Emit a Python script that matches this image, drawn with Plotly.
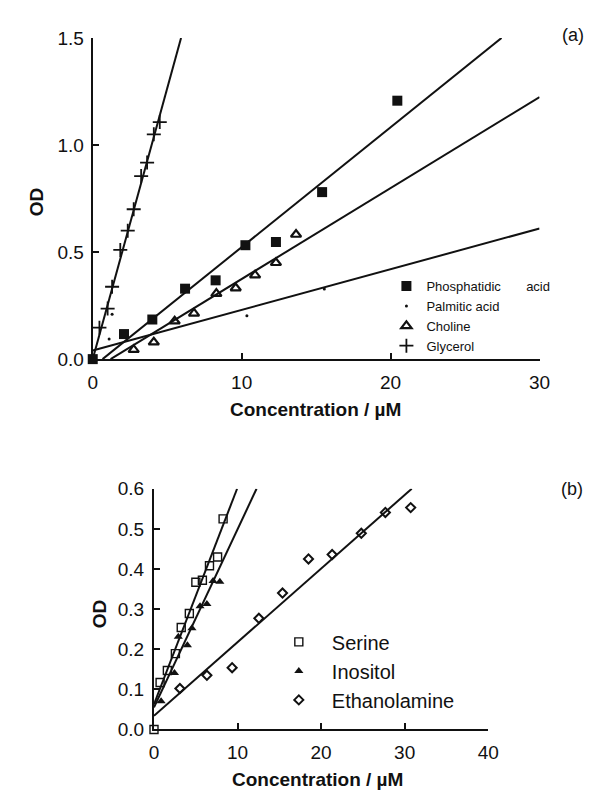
import plotly.graph_objects as go

# ---------------- Panel (a) data ----------------
pa_x = [0, 2.1, 4.0, 6.2, 8.25, 10.25, 12.3, 15.4, 20.45]
pa_y = [0, 0.117, 0.185, 0.329, 0.368, 0.532, 0.547, 0.78, 1.207]
palm_x = [1.1, 1.3, 10.35, 15.55]
palm_y = [0.094, 0.21, 0.203, 0.327]
chol_x = [2.75, 4.1, 5.5, 6.8, 8.3, 9.6, 10.9, 12.3, 13.65]
chol_y = [0.044, 0.079, 0.177, 0.214, 0.306, 0.332, 0.392, 0.45, 0.582]
gly_x = [0.45, 1.0, 1.3, 1.85, 2.35, 2.75, 3.25, 3.65, 4.1, 4.5]
gly_y = [0.147, 0.236, 0.338, 0.51, 0.60, 0.70, 0.855, 0.918, 1.05, 1.107]

# fitted lines (slope, intercept, x start, x end) for panel (a)
a_fit_slope = [0.056, 0.019, 0.0425, 0.253]
a_fit_icpt = [-0.037, 0.040, -0.051, 0.0]
a_fit_x0 = [0.66, 0.0, 1.2, 0.0]
a_fit_x1 = [30.0, 30.0, 30.0, 30.0]

# ---------------- Panel (b) data ----------------
ser_x = [0, 0.73, 1.6, 2.56, 3.26, 4.23, 5.01, 5.79, 6.64, 7.61, 8.27]
ser_y = [0, 0.117, 0.147, 0.189, 0.254, 0.289, 0.367, 0.372, 0.408, 0.430, 0.525]
ino_x = [0.85, 2.45, 2.91, 4.0, 4.54, 5.51, 6.33, 7.07, 7.88]
ino_y = [0.070, 0.141, 0.231, 0.21, 0.252, 0.307, 0.313, 0.37, 0.368]
eth_x = [3.1, 6.33, 9.35, 12.55, 15.38, 18.49, 21.32, 24.81, 27.69, 30.72]
eth_y = [0.102, 0.135, 0.154, 0.277, 0.340, 0.425, 0.436, 0.489, 0.541, 0.553]

b_fit_slope = [0.054, 0.0444, 0.01835]
b_fit_icpt = [0.063, 0.055, 0.034]
b_fit_x0 = [0.0, 0.0, 0.0]
b_fit_x1 = [40.0, 40.0, 31.0]

a_xticks = [0, 10, 20, 30]
a_yticks = [0.0, 0.5, 1.0, 1.5]
b_xticks = [0, 10, 20, 30, 40]
b_yticks = [0.0, 0.1, 0.2, 0.3, 0.4, 0.5, 0.6]

FONT = "Liberation Sans, Arial, Helvetica, sans-serif"
BLACK = "#111111"

fig = go.Figure()


def add_lines(slopes, icpts, x0s, x1s, ymax, xa, ya):
    for m, b, xs, xe in zip(slopes, icpts, x0s, x1s):
        xe = min(xe, (ymax - b) / m)
        fig.add_trace(go.Scatter(
            x=[xs, xe], y=[m * xs + b, m * xe + b], mode="lines",
            line=dict(color=BLACK, width=2), showlegend=False,
            hoverinfo="skip", xaxis=xa, yaxis=ya))


add_lines(a_fit_slope, a_fit_icpt, a_fit_x0, a_fit_x1, 1.5, "x", "y")
add_lines(b_fit_slope, b_fit_icpt, b_fit_x0, b_fit_x1, 0.6, "x2", "y2")

# panel (a) markers
fig.add_trace(go.Scatter(x=pa_x, y=pa_y, mode="markers",
                         name="Phosphatidic" + "\u00a0" * 7 + "acid",
                         marker=dict(symbol="square", size=10, color=BLACK),
                         cliponaxis=False, xaxis="x", yaxis="y", legend="legend"))
fig.add_trace(go.Scatter(x=palm_x, y=palm_y, mode="markers", name="Palmitic acid",
                         marker=dict(symbol="circle", size=3, color=BLACK),
                         cliponaxis=False, xaxis="x", yaxis="y", legend="legend"))
fig.add_trace(go.Scatter(x=chol_x, y=chol_y, mode="markers", name="Choline",
                         marker=dict(symbol="triangle-up-open", size=9, color=BLACK,
                                     line=dict(width=2.2, color=BLACK)),
                         cliponaxis=False, xaxis="x", yaxis="y", legend="legend"))
fig.add_trace(go.Scatter(x=gly_x, y=gly_y, mode="markers", name="Glycerol",
                         marker=dict(symbol="cross-thin-open", size=10, color=BLACK,
                                     line=dict(width=1.8, color=BLACK)),
                         cliponaxis=False, xaxis="x", yaxis="y", legend="legend"))

# panel (b) markers
fig.add_trace(go.Scatter(x=ser_x, y=ser_y, mode="markers", name="Serine",
                         marker=dict(symbol="square-open", size=8, color=BLACK,
                                     line=dict(width=1.4, color=BLACK)),
                         cliponaxis=False, xaxis="x2", yaxis="y2", legend="legend2"))
fig.add_trace(go.Scatter(x=ino_x, y=ino_y, mode="markers", name="Inositol",
                         marker=dict(symbol="triangle-up", size=8, color=BLACK),
                         cliponaxis=False, xaxis="x2", yaxis="y2", legend="legend2"))
fig.add_trace(go.Scatter(x=eth_x, y=eth_y, mode="markers", name="Ethanolamine",
                         marker=dict(symbol="diamond-open", size=7, color=BLACK,
                                     line=dict(width=2, color=BLACK)),
                         cliponaxis=False, xaxis="x2", yaxis="y2", legend="legend2"))

# page has an 8px body margin; size the figure so that it fits the window
OFF = 8
W, H = 596 - 2 * OFF, 801 - 2 * OFF


def dx(p):
    return (p - OFF) / W


def dy(p):
    return 1 - (p - OFF) / H


axis_common = dict(showgrid=False, zeroline=False, showline=True, linecolor=BLACK,
                   linewidth=2, ticks="inside", tickcolor=BLACK, tickwidth=2,
                   ticklen=6, mirror=False, fixedrange=True,
                   tickfont=dict(family=FONT, size=19, color=BLACK))

fig.update_layout(
    width=W, height=H, margin=dict(l=0, r=0, t=0, b=0),
    paper_bgcolor="white", plot_bgcolor="white",
    font=dict(family=FONT, color=BLACK),
    xaxis=dict(axis_common, domain=[dx(90), dx(549.5)], range=[0, 30],
               tickvals=a_xticks, ticktext=[str(v) for v in a_xticks],
               ticklabelstandoff=5, anchor="y"),
    yaxis=dict(axis_common, domain=[dy(358.5), dy(28.5)], range=[0, 1.5],
               tickvals=a_yticks, ticktext=["%.1f" % v for v in a_yticks],
               ticklabelstandoff=3, anchor="x"),
    xaxis2=dict(axis_common, domain=[dx(153), dx(496.7)], range=[0, 40],
                tickvals=b_xticks, ticktext=[str(v) for v in b_xticks],
                ticklabelstandoff=5, anchor="y2"),
    yaxis2=dict(axis_common, domain=[dy(739), dy(491.7)], range=[0, 0.6],
                tickvals=b_yticks, ticktext=["%.1f" % v for v in b_yticks],
                ticklabelstandoff=4, anchor="x2"),
    legend=dict(x=dx(392), y=dy(268), xanchor="left", yanchor="top",
                bgcolor="rgba(0,0,0,0)", borderwidth=0,
                font=dict(family=FONT, size=13, color=BLACK),
                itemwidth=30, tracegroupgap=0),
    legend2=dict(x=dx(268), y=dy(629), xanchor="left", yanchor="top",
                 bgcolor="rgba(0,0,0,0)", borderwidth=0,
                 font=dict(family=FONT, size=20, color=BLACK),
                 itemwidth=56, tracegroupgap=0),
    showlegend=True,
)

ann = [
    dict(text="(a)", x=dx(584), y=dy(25.5), size=18, bold=False),
    dict(text="(b)", x=dx(583), y=dy(492), size=18, bold=False),
    dict(text="OD", x=dx(33), y=dy(197), size=19, bold=True, angle=-90),
    dict(text="OD", x=dx(97), y=dy(620), size=19, bold=True, angle=-90),
    dict(text="Concentration / \u00b5M", x=dx(319), y=dy(410), size=19, bold=True),
    dict(text="Concentration / \u00b5M", x=dx(321), y=dy(790), size=19, bold=True),
]
for a in ann:
    fig.add_annotation(xref="paper", yref="paper", showarrow=False,
                       xanchor="center", yanchor="middle",
                       text=("<b>%s</b>" % a["text"]) if a["bold"] else a["text"],
                       x=a["x"], y=a["y"], textangle=a.get("angle", 0),
                       font=dict(family=FONT, color=BLACK, size=a["size"]))

fig.write_html("out.html")
